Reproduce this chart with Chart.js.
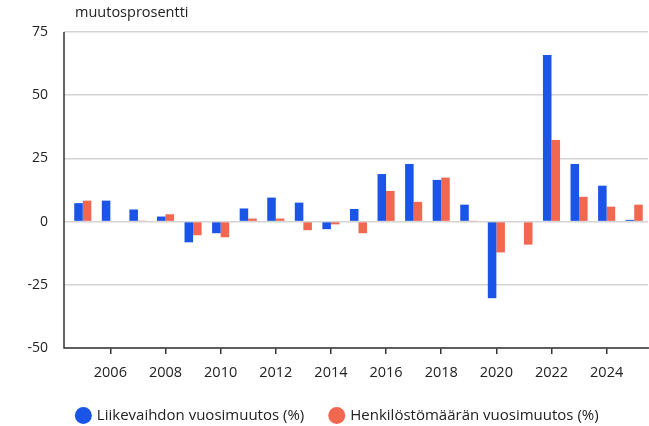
<!DOCTYPE html>
<html><head><meta charset="utf-8">
<script src="https://cdn.jsdelivr.net/npm/chart.js@4/dist/chart.umd.min.js"></script>
<style>html,body{margin:0;padding:0;background:#fff}#wrap{width:649px;height:426px;position:relative}</style>
</head><body><div id="wrap"><canvas id="c" width="649" height="426"></canvas></div>
<script>
const years = ['2005','2006','2007','2008','2009','2010','2011','2012','2013','2014','2015','2016','2017','2018','2019','2020','2021','2022','2023','2024','2025'];
const liikevaihto = [7.3,8.3,4.8,2.0,-8.2,-4.6,5.2,9.5,7.5,-3.0,5.0,18.8,22.8,16.5,6.7,-30.3,0.3,65.9,22.8,14.2,0.7];
const henkilosto = [8.3,0,0.4,2.9,-5.4,-6.2,1.2,1.2,-3.4,-1.1,-4.6,12.1,7.8,17.4,0.2,-12.2,-9.1,32.3,9.8,5.9,6.7];
const seriesNames = ['Liikevaihdon vuosimuutos (%)','Henkilöstömäärän vuosimuutos (%)'];
const yTitle = 'muutosprosentti';
const FONT = 'Open Sans';

const axisPlugin = {
  id:'axesLines',
  afterDraw(chart){
    const ctx = chart.ctx, a = chart.chartArea;
    ctx.save();
    ctx.strokeStyle = '#333';
    ctx.lineWidth = 1.5;
    ctx.beginPath();
    ctx.moveTo(a.left-5, a.top);
    ctx.lineTo(a.left-5, a.bottom);
    ctx.lineTo(chart.width, a.bottom);
    ctx.stroke();
    ctx.font = '14.5px "'+FONT+'"';
    ctx.fillStyle = '#222';
    ctx.textBaseline = 'middle';
    ctx.textAlign = 'left';
    ctx.fillText(yTitle, 75, 13);
    ctx.restore();
  }
};

new Chart(document.getElementById('c'), {
  type:'bar',
  data:{
    labels: years,
    datasets:[
      {label: seriesNames[0], data: liikevaihto, backgroundColor:'#1b55e8'},
      {label: seriesNames[1], data: henkilosto, backgroundColor:'#f2674f'}
    ]
  },
  options:{
    responsive:false,
    animation:false,
    layout:{padding:{top:32,right:1,left:28,bottom:-7}},
    datasets:{bar:{categoryPercentage:0.62,barPercentage:1}},
    plugins:{
      legend:{position:'bottom',labels:{usePointStyle:true,pointStyle:'circle',boxWidth:12,boxHeight:12,padding:4,color:'#222',font:{family:FONT,size:15},
        generateLabels(chart){
          const items = Chart.defaults.plugins.legend.labels.generateLabels(chart);
          items.forEach((it,i)=>{ if(i===0) it.text = it.text + '\u2003\u2002'; });
          return items;
        }}},
      tooltip:{enabled:false},
      title:{display:false}
    },
    scales:{
      x:{
        afterFit(s){s.height=56;},
        grid:{display:true,offset:false,drawOnChartArea:false,drawTicks:true,tickLength:6,lineWidth:1.5,
          color:(c)=>{const i=c.index;return (i!==undefined && parseInt(years[i])%2===0)?'#333':'rgba(0,0,0,0)';}},
        border:{display:false},
        ticks:{autoSkip:false,maxRotation:0,color:'#222',font:{family:FONT,size:14.5},padding:10,
          callback:function(v,i){const y=parseInt(years[i]);return y%2===0?years[i]:'';}}
      },
      y:{
        min:-50,max:75,
        afterFit(s){s.width=41;},
        grid:{color:'#d4d4d4',lineWidth:1.5,drawTicks:true,tickLength:5},
        border:{display:false},
        ticks:{stepSize:25,color:'#222',font:{family:FONT,size:14},padding:16}
      }
    }
  },
  plugins:[axisPlugin]
});
</script></body></html>
